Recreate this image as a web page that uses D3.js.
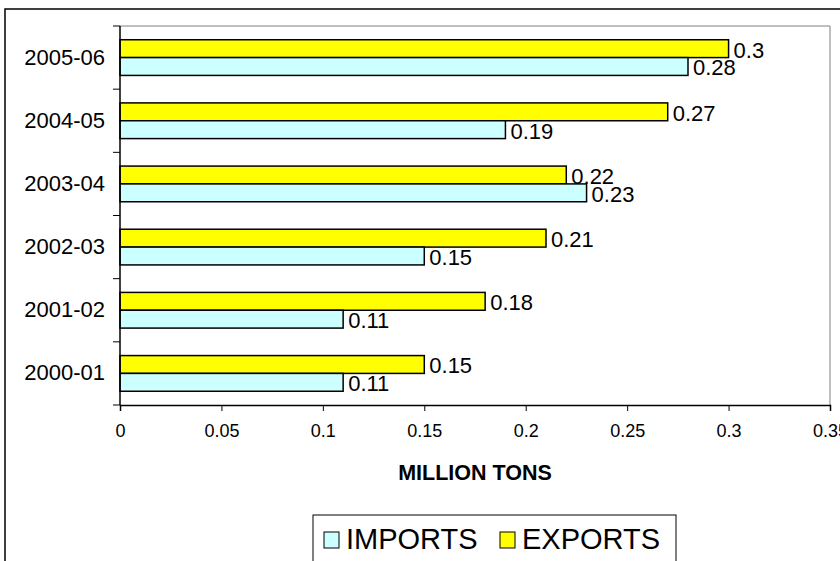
<!DOCTYPE html>
<html>
<head>
<meta charset="utf-8">
<script src="https://cdn.jsdelivr.net/npm/d3@7"></script>
<style>
  html, body { margin: 0; padding: 0; background: #fff; overflow: hidden; }
  svg { display: block; font-family: "Liberation Sans", Arial, sans-serif; }
</style>
</head>
<body>
<svg id="chart" width="840" height="561"></svg>
<script>
// Years, bottom to top
const categories = ["2000-01", "2001-02", "2002-03", "2003-04", "2004-05", "2005-06"];
const imports = [0.11, 0.11, 0.15, 0.23, 0.19, 0.28];
const exports = [0.15, 0.18, 0.21, 0.22, 0.27, 0.30];
const xTicks = [0, 0.05, 0.1, 0.15, 0.2, 0.25, 0.3, 0.35];
const seriesNames = ["EXPORTS", "IMPORTS"];
const seriesColors = { IMPORTS: "#CCFFFF", EXPORTS: "#FFFF00" };
const axisTitle = "MILLION TONS";

const svg = d3.select("#chart");
const plot = { left: 120, right: 830, top: 26, bottom: 405 };

// outer chart frame
svg.append("rect")
  .attr("x", 5).attr("y", 9).attr("width", 860).attr("height", 600)
  .attr("fill", "#fff").attr("stroke", "#000").attr("stroke-width", 1.5);

const x = d3.scaleLinear().domain([0, 0.35]).range([plot.left, plot.right]);
const y = d3.scaleBand().domain(categories.slice().reverse()).range([plot.top, plot.bottom]).padding(0);
const inner = d3.scaleBand().domain(seriesNames).range([0, y.bandwidth()]).paddingInner(0).paddingOuter(0.77);

// plot area border (top & right, grey)
svg.append("path")
  .attr("d", `M${plot.left},${plot.top}H${plot.right}V${plot.bottom}`)
  .attr("fill", "none").attr("stroke", "#808080").attr("stroke-width", 1);

const rows = categories.map((c, i) => ({ cat: c, IMPORTS: imports[i], EXPORTS: exports[i] }));

const g = svg.append("g");
const groups = g.selectAll("g.cat").data(rows).join("g")
  .attr("transform", d => `translate(0,${y(d.cat)})`);

groups.selectAll("rect").data(d => seriesNames.map(s => ({ s, v: d[s] }))).join("rect")
  .attr("x", x(0))
  .attr("y", d => inner(d.s))
  .attr("width", d => x(d.v) - x(0))
  .attr("height", inner.bandwidth())
  .attr("fill", d => seriesColors[d.s])
  .attr("stroke", "#000").attr("stroke-width", 1.5);

groups.selectAll("text").data(d => seriesNames.map(s => ({ s, v: d[s] }))).join("text")
  .attr("x", d => x(d.v) + 5)
  .attr("y", d => inner(d.s) + inner.bandwidth() / 2 + 1)
  .attr("dy", "0.36em")
  .attr("font-size", 22)
  .attr("fill", "#000")
  .text(d => d3.format("")(d.v));

// category axis
const yAxis = d3.axisLeft(y).tickSize(0).tickPadding(15);
const ya = svg.append("g").attr("transform", `translate(${plot.left},0)`).call(yAxis);
ya.select(".domain").remove();
ya.selectAll("text").attr("font-size", 22).attr("fill", "#000").attr("font-family", "Liberation Sans, Arial, sans-serif");
// tick marks between categories
const bounds = d3.range(categories.length + 1).map(i => plot.top + i * y.step());
svg.append("g").selectAll("line").data(bounds).join("line")
  .attr("x1", plot.left - 7).attr("x2", plot.left)
  .attr("y1", d => d).attr("y2", d => d)
  .attr("stroke", "#000").attr("stroke-width", 1);
svg.append("line")
  .attr("x1", plot.left).attr("x2", plot.left).attr("y1", plot.top).attr("y2", plot.bottom)
  .attr("stroke", "#000").attr("stroke-width", 1.5);

// value axis
const xAxis = d3.axisBottom(x).tickValues(xTicks).tickSize(6).tickPadding(13).tickFormat(d3.format(""));
const xa = svg.append("g").attr("transform", `translate(0,${plot.bottom})`).call(xAxis);
xa.select(".domain").attr("stroke", "#000").attr("stroke-width", 1.5);
xa.selectAll("text").attr("font-size", 18).attr("fill", "#000").attr("font-family", "Liberation Sans, Arial, sans-serif");

// axis title
svg.append("text")
  .attr("x", (plot.left + plot.right) / 2).attr("y", 480)
  .attr("text-anchor", "middle").attr("font-size", 21.5).attr("font-weight", "bold")
  .text(axisTitle);

// legend
const legend = svg.append("g");
legend.append("rect")
  .attr("x", 313).attr("y", 515).attr("width", 363).attr("height", 70)
  .attr("fill", "#fff").attr("stroke", "#000").attr("stroke-width", 1);
const legendItems = [
  { s: "IMPORTS", x: 324 },
  { s: "EXPORTS", x: 500 }
];
legend.selectAll("rect.sym").data(legendItems).join("rect")
  .attr("class", "sym")
  .attr("x", d => d.x).attr("y", 532).attr("width", 15).attr("height", 16)
  .attr("fill", d => seriesColors[d.s]).attr("stroke", "#000").attr("stroke-width", 1);
legend.selectAll("text").data(legendItems).join("text")
  .attr("x", d => d.x + 22).attr("y", 549)
  .attr("font-size", 29)
  .text(d => d.s);
</script>
</body>
</html>
